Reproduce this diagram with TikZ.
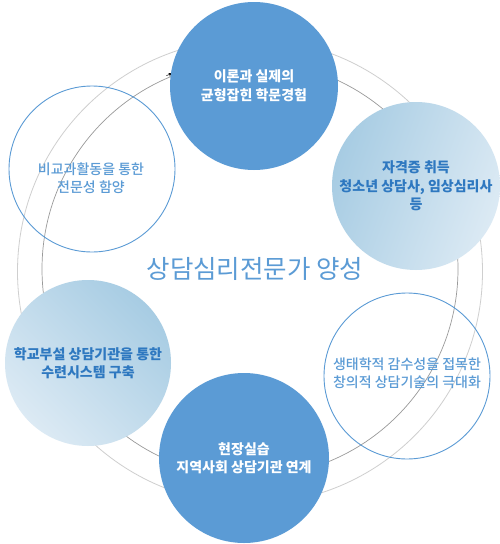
\documentclass[tikz,border=0pt]{standalone}
\usepackage{fontspec}
\setmainfont{Noto Sans CJK KR}
\newfontfamily\krmed{Noto Sans CJK KR Medium}
\usetikzlibrary{arrows.meta}
\definecolor{fillblue}{HTML}{5B9BD5}
\definecolor{lightA}{HTML}{A7CCE3}
\definecolor{lightB}{HTML}{DCEAF4}
\definecolor{textdeep}{HTML}{2E78C0}
\definecolor{textsoft}{HTML}{5B9BD5}
\definecolor{ringlight}{HTML}{CFCFCF}
\definecolor{ringdark}{HTML}{9A9A9A}
\begin{document}
\begin{tikzpicture}[x=1pt,y=-1pt,
  base/.style={circle, inner sep=0pt, align=center,
    font=\fontsize{14}{18.5}\selectfont},
  darkdisc/.style={base, fill=fillblue, text=white, font=\fontsize{14}{18.5}\selectfont\bfseries},
  lightdisc/.style={base, text=textdeep, font=\fontsize{14}{18.5}\selectfont\bfseries},
  ringdisc/.style={base, draw=textsoft, line width=0.9pt},
  ringtext/.style={align=center, inner sep=0pt, text=textsoft, font=\fontsize{14}{18.5}\selectfont\krmed},
  outerring/.style={draw=ringlight, line width=0.8pt},
  innerring/.style={draw=ringdark, line width=0.7pt}]
\useasboundingbox (0,0) rectangle (499,544);
\fill[white] (0,0) rectangle (499,544);
\coordinate (cO) at (250,271.5);
\coordinate (cI) at (250,269);
\draw[outerring] (cO) circle (232.5pt);
\draw[innerring] (cI) circle (208pt);
\coordinate (arrA) at (166.5,75.6);
\coordinate (arrB) at (172.5,73.2);
\draw[-{Stealth[length=4pt,width=3.5pt]}, black, line width=0.5pt] (arrA) -- (arrB);

\node[darkdisc, minimum size=168pt] (top) at (254,86) {이론과 실제의\\균형잡힌 학문경험};
\node[lightdisc, minimum size=168pt, left color=lightA, right color=lightB, shading angle=70] (tr) at (416,186) {자격증 취득\\청소년 상담사, 임상심리사\\등};
\node[ringdisc, minimum size=166pt] (tl) at (92,169) {};
\node[ringtext] (tltext) at (91,178) {비교과활동을 통한\\전문성 함양};
\node[lightdisc, minimum size=166pt, left color=lightB, right color=lightA, shading angle=135] (bl) at (88,363) {학교부설 상담기관을 통한\\수련시스템 구축};
\node[ringdisc, minimum size=166pt] (br) at (407,376) {};
\node[ringtext] (brtext) at (407,373) {생태학적 감수성을 접목한\\창의적 상담기술의 극대화};
\node[darkdisc, minimum size=170pt] (bot) at (244,458) {현장실습\\지역사회 상담기관 연계};
\node[text=textsoft, font=\fontsize{25.5}{30}\selectfont] (title) at (255,269) {상담심리전문가 양성};
\end{tikzpicture}
\end{document}
